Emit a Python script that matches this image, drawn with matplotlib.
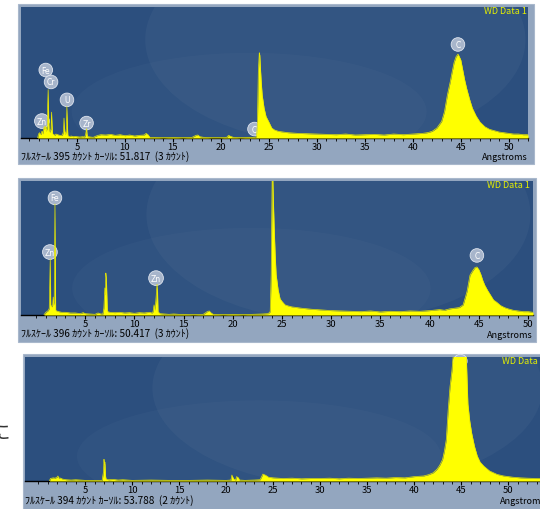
import matplotlib
matplotlib.use("Agg")
import matplotlib.pyplot as plt
from matplotlib.patches import Rectangle, Ellipse

plt.rcParams['font.family'] = ['Noto Sans CJK JP', 'DejaVu Sans']

# ---- spectrum 1 (full scale 395 counts) ----
x1 = [0.9, 1.0, 1.1, 1.2, 1.3, 1.35, 1.4, 1.45, 1.5, 1.6, 1.7, 1.75, 1.8, 1.9, 1.95, 2.0, 2.05,
      2.1, 2.2, 2.3, 2.35, 2.4, 2.45, 2.5, 2.6, 2.7, 2.8, 3.0, 3.2, 3.4, 3.5, 3.6, 3.65, 3.7,
      3.8, 3.9, 3.95, 4.0, 4.05, 4.1, 4.2, 4.4, 4.6, 4.8, 5.0, 5.3, 5.6, 5.8, 5.9, 6.0, 6.05,
      6.1, 6.2, 6.4, 6.7, 7.0, 7.2, 7.5, 8.0, 8.5, 9.0, 9.5, 10.0, 10.5, 11.0, 11.5, 12.0,
      12.2, 12.4, 12.6, 13.0, 14.0, 15.0, 16.0, 17.0, 17.4, 17.6, 17.8, 18.2, 19.0, 20.0, 20.6,
      20.8, 21.0, 21.3, 22.0, 23.0, 23.5, 23.7, 23.8, 23.9, 24.0, 24.05, 24.1, 24.2, 24.3, 24.5,
      24.7, 25.0, 25.3, 25.6, 26.0, 26.5, 27.0, 28.0, 29.0, 30.0, 31.0, 32.0, 33.0, 34.0, 35.0,
      36.0, 37.0, 38.0, 39.0, 40.0, 41.0, 41.5, 42.0, 42.5, 43.0, 43.3, 43.6, 43.9, 44.1, 44.3,
      44.5, 44.7, 44.8, 45.0, 45.2, 45.4, 45.6, 45.9, 46.2, 46.6, 47.0, 47.5, 48.0, 48.5, 49.0,
      49.5, 50.0, 50.5, 51.0, 51.5, 52.0]
y1 = [0, 12, 16, 10, 14, 20, 18, 12, 24, 34, 28, 36, 20, 30, 100, 146, 60,
      20, 18, 28, 78, 40, 14, 12, 10, 8, 12, 10, 8, 8, 10, 20, 60, 22,
      10, 30, 95, 40, 8, 6, 4, 6, 4, 5, 4, 3, 4, 3, 10, 28, 12,
      4, 4, 3, 2, 6, 8, 10, 9, 11, 8, 10, 7, 9, 6, 8, 9,
      14, 10, 2, 2, 1, 2, 1, 2, 8, 9, 4, 2, 1, 1, 2,
      8, 5, 2, 1, 2, 2, 4, 40, 200, 257, 250, 220, 170, 130, 90,
      65, 48, 30, 24, 20, 18, 16, 14, 13, 12, 11, 10, 12, 9, 10,
      11, 9, 12, 10, 12, 14, 16, 20, 30, 50, 80, 130, 170, 200, 228,
      245, 253, 248, 235, 205, 175, 150, 118, 90, 66, 48, 34, 26, 22, 18,
      16, 14, 12, 12, 10, 10]

# ---- spectrum 2 (full scale 396 counts) ----
x2 = [0.8, 1.0, 1.2, 1.3, 1.35, 1.4, 1.45, 1.5, 1.6, 1.7, 1.75, 1.8, 1.85, 1.9, 1.93, 1.97,
      2.0, 2.1, 2.3, 2.6, 3.0, 3.5, 4.0, 4.5, 4.8, 5.0, 5.5, 6.0, 6.3, 6.6, 6.8, 6.9, 7.0, 7.05,
      7.1, 7.15, 7.2, 7.25, 7.3, 7.5, 8.0, 8.5, 9.0, 9.5, 10.0, 10.5, 11.0, 11.5, 11.8, 11.9,
      12.0, 12.1, 12.2, 12.3, 12.35, 12.4, 12.6, 13.0, 13.5, 14.0, 14.5, 15.0, 16.0, 17.0,
      17.4, 17.6, 17.8, 18.0, 19.0, 20.0, 21.0, 22.0, 23.0, 23.6, 23.8, 23.9, 24.0, 24.05,
      24.1, 24.2, 24.3, 24.4, 24.6, 24.8, 25.0, 25.3, 25.6, 26.0, 26.5, 27.0, 28.0, 29.0, 30.0,
      31.0, 32.0, 33.0, 34.0, 35.0, 36.0, 37.0, 38.0, 39.0, 40.0, 41.0, 41.5, 42.0, 42.5, 43.0,
      43.4, 43.8, 44.1, 44.4, 44.6, 44.8, 45.0, 45.2, 45.4, 45.6, 45.9, 46.2, 46.5, 46.8, 47.2,
      47.6, 48.0, 48.5, 49.0, 49.5, 50.0, 50.5]
y2 = [0, 8, 12, 16, 20, 100, 166, 30, 24, 30, 53, 30, 40, 200, 328, 120,
      14, 12, 10, 8, 8, 6, 6, 4, 7, 4, 3, 2, 6, 3, 3, 20, 80, 60,
      124, 110, 60, 12, 10, 8, 7, 8, 6, 7, 5, 7, 6, 8, 6, 10,
      30, 14, 50, 91, 70, 10, 4, 3, 2, 3, 2, 2, 1, 2,
      10, 12, 6, 2, 1, 2, 1, 2, 3, 4, 10, 120, 420, 420,
      360, 260, 180, 120, 75, 48, 40, 30, 27, 24, 22, 20, 17, 15, 13,
      12, 11, 10, 12, 9, 11, 10, 12, 11, 13, 16, 14, 18, 20, 22,
      30, 70, 118, 132, 140, 142, 134, 120, 102, 88, 72, 58, 44, 38, 28,
      22, 18, 14, 12, 10, 10, 8]

# ---- spectrum 3 (full scale 394 counts) ----
x3 = [1.2, 1.3, 1.6, 1.8, 2.0, 2.1, 2.2, 2.3, 2.6, 3.0, 3.5, 4.0, 5.0, 6.0, 6.8, 6.95, 7.0,
      7.05, 7.1, 7.15, 7.2, 7.3, 7.5, 8.0, 8.5, 9.0, 10.0, 12.0, 14.0, 16.0, 18.0, 20.0, 20.5,
      20.6, 20.7, 20.8, 21.0, 21.1, 21.3, 21.4, 22.0, 23.0, 23.6, 23.8, 23.9, 24.2, 24.5, 25.0,
      25.5, 26.0, 27.0, 28.0, 29.0, 30.0, 31.0, 32.0, 33.0, 34.0, 35.0, 36.0, 37.0, 38.0, 39.0,
      40.0, 41.0, 41.5, 42.0, 42.4, 42.7, 43.0, 43.2, 43.4, 43.6, 43.8, 44.0, 44.2, 44.5, 45.0,
      45.5, 45.7, 45.9, 46.1, 46.4, 46.7, 47.0, 47.4, 48.0, 48.8, 49.5, 50.5, 51.3, 52.0, 53.0,
      53.5]
y3 = [0, 8, 10, 9, 12, 16, 8, 10, 6, 4, 3, 4, 2, 2, 2, 30, 69,
      52, 60, 20, 8, 5, 4, 5, 3, 4, 2, 3, 2, 2, 3, 2, 3,
      19, 12, 6, 3, 14, 10, 3, 2, 3, 4, 16, 22, 18, 12, 10,
      9, 8, 9, 7, 8, 8, 9, 7, 9, 8, 9, 10, 9, 11, 10,
      14, 16, 20, 26, 37, 50, 68, 95, 131, 225, 300, 350, 420, 420, 420,
      420, 245, 190, 152, 110, 79, 60, 47, 32, 21, 16, 12, 10, 9, 8,
      8]

# ---- element markers: (label, angstrom, counts) ----
labels1 = [('Fe', 1.75, 205), ('Cr', 2.3, 169), ('U', 3.96, 115), ('Zn', 1.35, 51),
           ('Zr', 6.0, 45), ('C', 23.5, 27), ('C', 44.7, 282)]
labels2 = [('Fe', 1.93, 346), ('Zn', 1.42, 186), ('Zn', 12.2, 109), ('C', 44.8, 176)]
labels3 = [('C', 44.9, 381)]

infos = ['ﾌﾙｽｹｰﾙ 395 ｶｳﾝﾄ ｶｰｿﾙ: 51.817  (3 ｶｳﾝﾄ)',
         'ﾌﾙｽｹｰﾙ 396 ｶｳﾝﾄ ｶｰｿﾙ: 50.417  (3 ｶｳﾝﾄ)',
         'ﾌﾙｽｹｰﾙ 394 ｶｳﾝﾄ ｶｰｿﾙ: 53.788  (2 ｶｳﾝﾄ)']

W, H = 540, 510
fig = plt.figure(figsize=(W / 100, H / 100), dpi=100)


def rect(x0, y0, x1, y1):
    # pixel box (top-left origin) -> figure fraction
    return [x0 / W, 1 - y1 / H, (x1 - x0) / W, (y1 - y0) / H]


def fx(x):
    return x / W


def fy(y):
    return 1 - y / H


panels = [
    dict(frame=(18, 5, 534, 165), plot=(21, 8, 528, 139), xlim=(-0.83, 52.0),
         x=x1, y=y1, fs=395, labels=labels1, info=(21, 157), ang=(528, 158),
         wd=(527, 12, 'right')),
    dict(frame=(18, 179, 536, 343), plot=(21, 182, 533, 316), xlim=(-1.52, 50.5),
         x=x2, y=y2, fs=396, labels=labels2, info=(21, 334), ang=(533, 335),
         wd=(530, 186, 'right')),
    dict(frame=(23, 355, 545, 515), plot=(25, 358, 545, 482), xlim=(-1.4, 53.9),
         x=x3, y=y3, fs=394, labels=labels3, info=(25, 501), ang=(546, 502),
         wd=(502, 362, 'left')),
]

for i, p in enumerate(panels):
    fr = rect(*p['frame'])
    fig.add_artist(Rectangle((fr[0], fr[1]), fr[2], fr[3], transform=fig.transFigure,
                             facecolor='#93a6bf', edgecolor='#a9b8cc', lw=0.8, zorder=0))

    ax = fig.add_axes(rect(*p['plot']))
    ax.set_facecolor('#2c4f7e')
    # faint background swirl
    ax.add_patch(Ellipse((0.62, 0.75), 0.75, 1.6, transform=ax.transAxes,
                         facecolor='white', alpha=0.035, lw=0, zorder=0))
    ax.add_patch(Ellipse((0.45, 0.2), 0.7, 0.9, transform=ax.transAxes,
                         facecolor='white', alpha=0.025, lw=0, zorder=0))

    ax.fill_between(p['x'], p['y'], 0, color='#ffff00', lw=0, zorder=3)
    ax.plot(p['x'], p['y'], color='#e8e800', lw=0.5, zorder=3)
    ax.set_xlim(*p['xlim'])
    ax.set_ylim(0, p['fs'])

    for lab, lx, ly in p['labels']:
        ax.text(lx, ly, lab, ha='center', va='center', fontsize=5.5, color='white', zorder=2,
                family=['DejaVu Sans'],
                bbox=dict(boxstyle='circle,pad=0.3', fc='#a7b5cb', ec='#dfe5ef', lw=0.6))

    major = list(range(5, int(p['xlim'][1]) + 1, 5))
    ax.set_xticks(major)
    ax.set_xticklabels([str(m) for m in major])
    ax.set_xticks(range(0, int(p['xlim'][1]) + 1), minor=True)
    ax.tick_params(axis='x', which='major', direction='out', length=3, width=0.8,
                   colors='black', labelsize=6.8, pad=0)
    ax.tick_params(axis='x', which='minor', direction='out', length=1.8, width=0.6,
                   colors='black')
    ax.set_yticks([])
    for s in ['top', 'left', 'right']:
        ax.spines[s].set_visible(False)
    ax.spines['bottom'].set_color('black')
    ax.spines['bottom'].set_linewidth(1.0)

    ix, iy = p['info']
    fig.text(fx(ix), fy(iy), infos[i], ha='left', va='center', fontsize=7.2, color='black')
    axx, axy = p['ang']
    fig.text(fx(axx), fy(axy), 'Angstroms', ha='right', va='center', fontsize=6.5,
             color='black')
    wx, wy, wha = p['wd']
    fig.text(fx(wx), fy(wy), 'WD Data 1', ha=wha, va='center', fontsize=6.5,
             color='#e6f000', zorder=5)

fig.text(fx(-9), fy(434), 'に', ha='left', va='center', fontsize=14, color='#333333')

fig.savefig('out.png', dpi=100)
